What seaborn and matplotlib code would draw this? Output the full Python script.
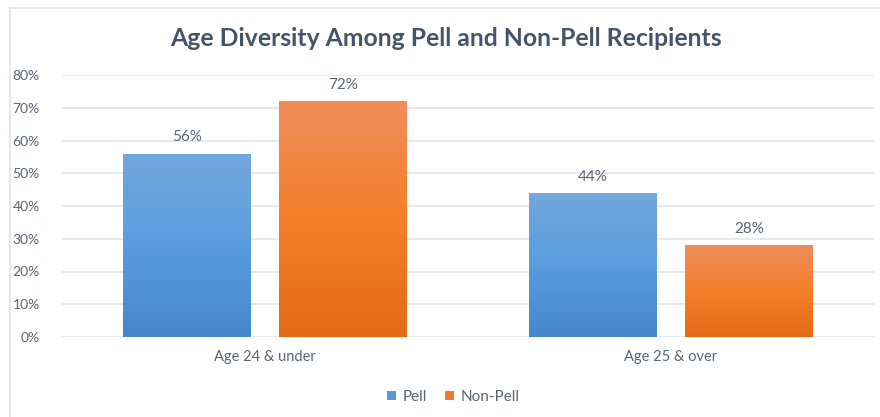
import numpy as np
import pandas as pd
import matplotlib
matplotlib.use("Agg")
import matplotlib.pyplot as plt
from matplotlib.colors import LinearSegmentedColormap
from matplotlib.lines import Line2D
from matplotlib.patches import Patch
import seaborn as sns

# дані
categories = ["Age 24 & under", "Age 25 & over"]
groups = ["Pell", "Non-Pell"]
pell_values = [0.56, 0.44]
non_pell_values = [0.72, 0.28]
y_ticks = [0.0, 0.1, 0.2, 0.3, 0.4, 0.5, 0.6, 0.7, 0.8]

sns.set_theme(style="white")
plt.rcParams["font.family"] = ["Lato", "DejaVu Sans"]

TEXT = "#5b6576"
TITLE = "#44546a"
GRID = "#e3e5ea"
solid = {"Pell": "#5b9bd5", "Non-Pell": "#ed7d31"}
grad = {
    "Pell": ["#4587c9", "#5a9ddf", "#72a7dc"],
    "Non-Pell": ["#e46a16", "#f47f2a", "#ef8d5b"],
}

df = pd.DataFrame({
    "category": categories * 2,
    "group": [groups[0]] * 2 + [groups[1]] * 2,
    "value": pell_values + non_pell_values,
})

fig = plt.figure(figsize=(8.8, 4.17), dpi=100)
ax = fig.add_axes([62 / 880, (417 - 337) / 417, (874 - 62) / 880, (337 - 75) / 417])

sns.barplot(data=df, x="category", y="value", hue="group", hue_order=groups,
            palette=solid, width=0.77, gap=0.185, ax=ax, legend=False,
            errorbar=None, linewidth=0)

# градієнтна заливка стовпчиків
order = [g for g in groups for _ in categories]
for patch, g in zip(ax.patches, order):
    x0, y0 = patch.get_x(), patch.get_y()
    w, h = patch.get_width(), patch.get_height()
    cmap = LinearSegmentedColormap.from_list(g, grad[g])
    img = ax.imshow(np.linspace(0, 1, 256).reshape(-1, 1), cmap=cmap,
                    extent=[x0, x0 + w, y0, y0 + h], origin="lower",
                    aspect="auto", zorder=patch.get_zorder() + 0.1)
    img.set_clip_path(patch)
    ax.text(x0 + w / 2, y0 + h + 0.028, f"{h * 100:.0f}%", ha="center",
            va="bottom", fontsize=11, color=TEXT)

ax.set_xlim(-0.5, 1.5)
ax.set_ylim(0, 0.8)
ax.set_yticks(y_ticks)
ax.set_yticklabels([f"{t * 100:.0f}%" for t in y_ticks], fontsize=10, color=TEXT)
ax.tick_params(axis="y", length=0, pad=16)
ax.tick_params(axis="x", length=0, pad=9, labelsize=10.5, labelcolor=TEXT)
ax.yaxis.grid(True, color=GRID, linewidth=1.2)
ax.set_axisbelow(True)
for s in ax.spines.values():
    s.set_visible(False)
ax.set_xlabel("")
ax.set_ylabel("")

fig.text(446 / 880, 1 - 46 / 417, "Age Diversity Among Pell and Non-Pell Recipients",
         ha="center", va="baseline", fontsize=17.8, fontweight="bold", color=TITLE)

handles = [Patch(facecolor=solid[g], edgecolor="none", label=g) for g in groups]
fig.legend(handles=handles, loc="center", bbox_to_anchor=(453 / 880, 1 - 397 / 417),
           ncol=2, frameon=False, fontsize=11, labelcolor=TEXT,
           handlelength=0.6, handleheight=0.6, handletextpad=0.4, columnspacing=1.2)

# рамка області діаграми
fig.add_artist(Line2D([10 / 880, 10 / 880], [0, 1 - 8 / 417], transform=fig.transFigure,
                      color="#e1e3e8", linewidth=1.2))
fig.add_artist(Line2D([10 / 880, 1], [1 - 8 / 417, 1 - 8 / 417], transform=fig.transFigure,
                      color="#e1e3e8", linewidth=1.2))

fig.savefig("out.png", dpi=100)
